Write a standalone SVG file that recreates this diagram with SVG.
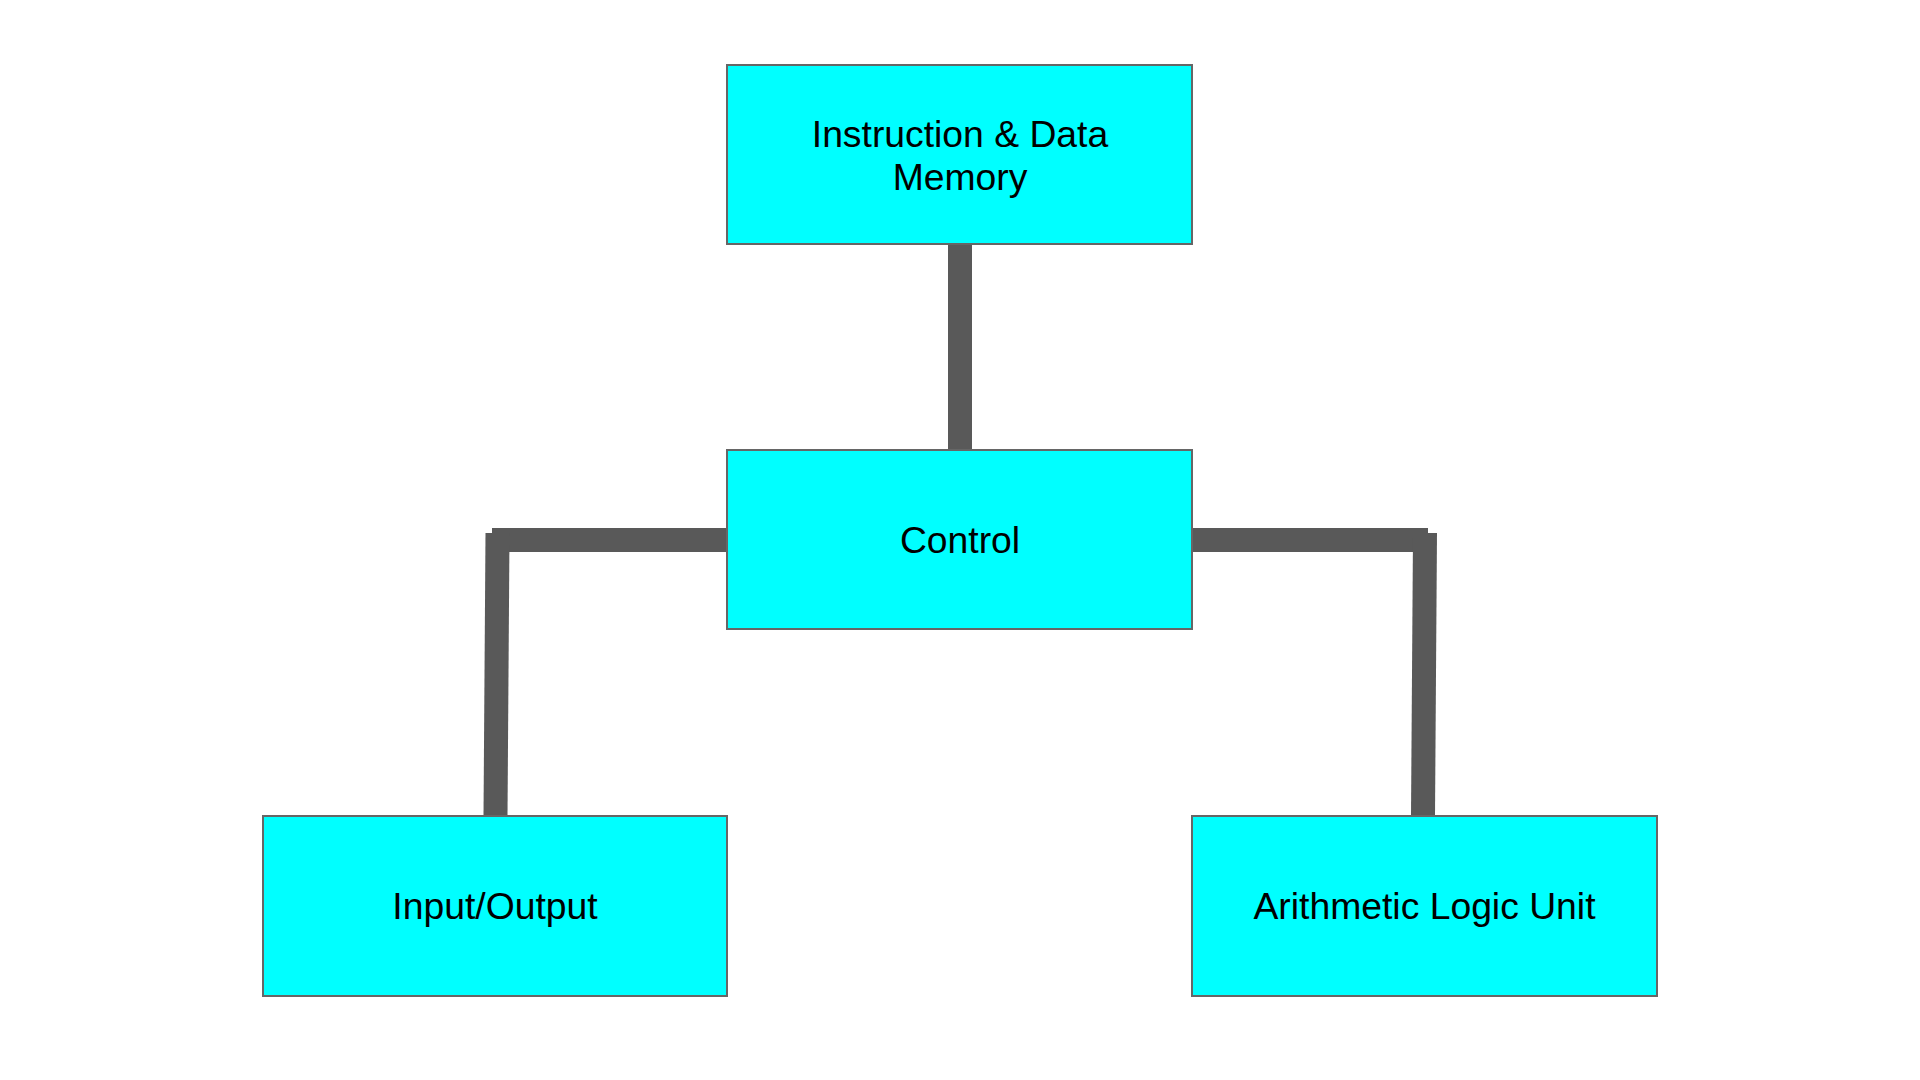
<svg xmlns="http://www.w3.org/2000/svg" width="1920" height="1080" viewBox="0 0 1920 1080">
<style>
.box{fill:#00ffff;stroke:#666666;stroke-width:2}
.lbl{font-family:"Liberation Sans",Arial,sans-serif;font-size:37.3px;fill:#000000;text-anchor:middle}
.wire{stroke:#595959;stroke-width:24;fill:none;stroke-linecap:butt}
</style>
<rect width="1920" height="1080" fill="#ffffff"/>
<g id="connectors">
<line class="wire" x1="960" y1="244" x2="960" y2="450"/>
<line class="wire" x1="492" y1="540" x2="727" y2="540"/>
<line class="wire" x1="497.5" y1="533" x2="495.5" y2="816"/>
<line class="wire" x1="1192" y1="540" x2="1428" y2="540"/>
<line class="wire" x1="1425" y1="533" x2="1423" y2="816"/>
</g>
<g id="memory">
<rect class="box" x="727" y="65" width="465" height="179"/>
<text class="lbl" x="960" y="147">Instruction &amp; Data</text>
<text class="lbl" x="960" y="190">Memory</text>
</g>
<g id="control">
<rect class="box" x="727" y="450" width="465" height="179"/>
<text class="lbl" x="960" y="553">Control</text>
</g>
<g id="io">
<rect class="box" x="263" y="816" width="464" height="180"/>
<text class="lbl" x="495" y="919">Input/Output</text>
</g>
<g id="alu">
<rect class="box" x="1192" y="816" width="465" height="180"/>
<text class="lbl" x="1424.5" y="919">Arithmetic Logic Unit</text>
</g>
</svg>
